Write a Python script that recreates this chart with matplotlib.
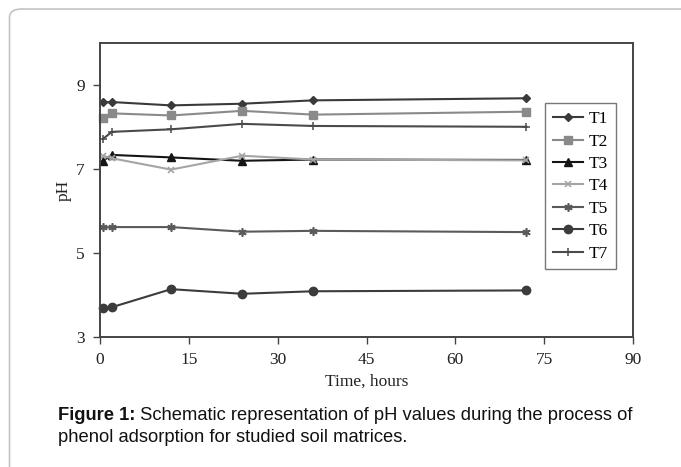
import matplotlib
matplotlib.use('Agg')
import matplotlib.pyplot as plt
from matplotlib.patches import FancyBboxPatch

# datos
tiempo = [0.5, 2, 12, 24, 36, 72]
t1 = [8.59, 8.60, 8.52, 8.56, 8.64, 8.69]
t2 = [8.23, 8.33, 8.28, 8.39, 8.30, 8.37]
t3 = [7.20, 7.34, 7.28, 7.20, 7.23, 7.22]
t4 = [7.32, 7.26, 6.99, 7.32, 7.23, 7.21]
t5 = [5.61, 5.62, 5.62, 5.51, 5.53, 5.50]
t6 = [3.68, 3.71, 4.14, 4.03, 4.09, 4.11]
t7 = [7.72, 7.89, 7.95, 8.08, 8.03, 8.01]
nombres = ['T1', 'T2', 'T3', 'T4', 'T5', 'T6', 'T7']
xticks = [0, 15, 30, 45, 60, 75, 90]
yticks = [3, 5, 7, 9]

serie = [t1, t2, t3, t4, t5, t6, t7]
estilos = [
    dict(color='#3a3a3a', marker='D', ms=4.5),
    dict(color='#8a8a8a', marker='s', ms=5.5),
    dict(color='#151515', marker='^', ms=5.5),
    dict(color='#a5a5a5', marker='x', ms=5, mew=1.2),
    dict(color='#5a5a5a', marker=(6, 2, 0), ms=6, mew=1.2),
    dict(color='#3c3c3c', marker='o', ms=6),
    dict(color='#4a4a4a', marker='+', ms=6, mew=1.1),
]

fig = plt.figure(figsize=(6.81, 4.67), dpi=100)

# marco gris redondeado de la figura
marco = FancyBboxPatch((9.5 / 681, -0.05), 1.2, 1 - 9 / 467 + 0.05,
                       boxstyle='round,pad=0,rounding_size=0.018',
                       transform=fig.transFigure, fill=False,
                       edgecolor='#c4c4c4', linewidth=1.2)
fig.patches.append(marco)

ax = fig.add_axes([100 / 681, 1 - 337 / 467, 533 / 681, 293.7 / 467])

for datos, nombre, est in zip(serie, nombres, estilos):
    ax.plot(tiempo, datos, label=nombre, linewidth=1.5, clip_on=False, **est)

ax.set_xlim(0, 90)
ax.set_ylim(3, 10)
ax.set_xticks(xticks)
ax.set_yticks(yticks)

serif = 'Liberation Serif'
for lbl in ax.get_xticklabels() + ax.get_yticklabels():
    lbl.set_fontfamily(serif)
    lbl.set_fontsize(12.5)
    lbl.set_color('#222222')
ax.tick_params(direction='out', length=5, width=1, color='#444444', pad=6)
for sp in ax.spines.values():
    sp.set_color('#444444')
    sp.set_linewidth(1.4)

ax.set_xlabel('Time, hours', fontfamily=serif, fontsize=12.5, color='#222222', labelpad=4)
ax.set_ylabel('pH', fontfamily=serif, fontsize=12.5, color='#222222', labelpad=3)

leg = ax.legend(loc='upper left', bbox_to_anchor=(0.835, 0.796), fancybox=False,
                edgecolor='#555555', handlelength=1.75, labelspacing=0.36,
                handletextpad=0.3, borderpad=0.45, borderaxespad=0,
                prop={'family': serif, 'size': 12.5})
leg.get_frame().set_linewidth(1.0)

# pie de figura
fuente = 'Liberation Sans'
t_bold = fig.text(58 / 681, 1 - 416 / 467, 'Figure 1:', fontfamily=fuente,
                  fontweight='bold', fontsize=13.2, va='center', color='#111111')
ax.annotate(' Schematic representation of pH values during the process of',
            xy=(1, 0.5), xycoords=t_bold, va='center', ha='left',
            fontfamily=fuente, fontsize=13.2, color='#111111')
fig.text(58 / 681, 1 - 438 / 467, 'phenol adsorption for studied soil matrices.',
         fontfamily=fuente, fontsize=13.2, va='center', color='#111111')

plt.savefig('out.png', dpi=100)
